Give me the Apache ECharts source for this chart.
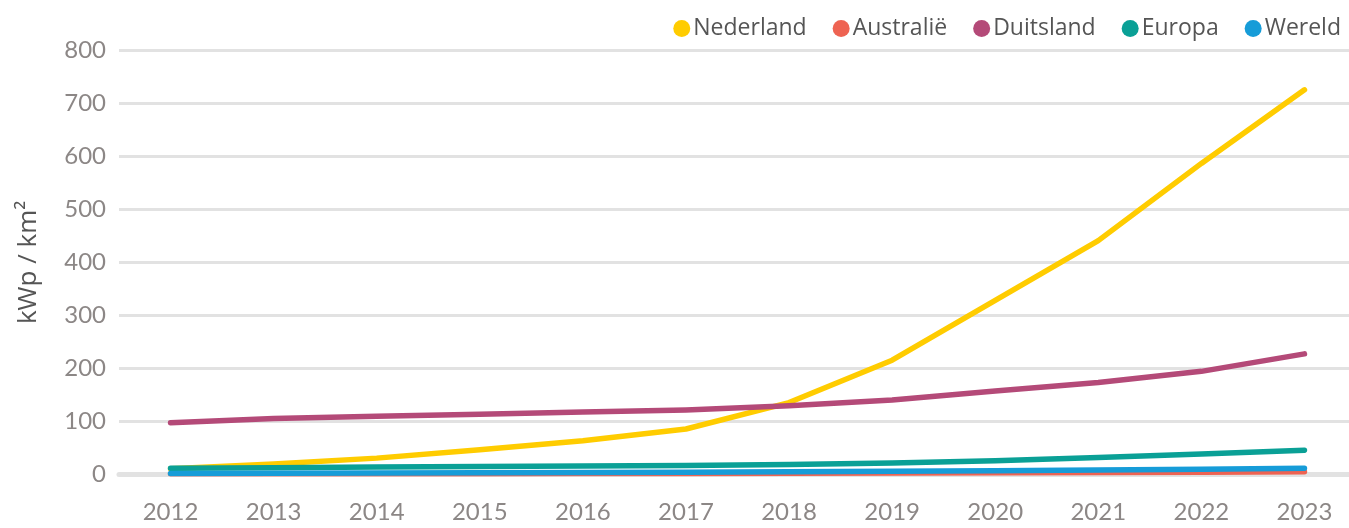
<!DOCTYPE html>
<html>
<head>
<meta charset="utf-8">
<script src="https://cdn.jsdelivr.net/npm/echarts@6/dist/echarts.min.js"></script>
<style>
  html, body { margin: 0; padding: 0; background: #fff; }
  #main { width: 1349px; height: 528px; }
</style>
</head>
<body>
<div id="main"></div>
<script>
var years = ['2012','2013','2014','2015','2016','2017','2018','2019','2020','2021','2022','2023'];
var nederland = [10, 19, 30, 46, 63, 85, 135, 215, 328, 441, 587, 726];
var australie = [0.3, 0.4, 0.5, 0.7, 0.9, 1.1, 1.4, 1.8, 2.2, 2.8, 3.4, 4.2];
var duitsland = [97, 105, 109, 113, 117, 121, 129, 140, 157, 173, 194, 227];
var europa = [11, 12, 13, 14, 15, 16, 18, 21, 25, 31, 38, 45];
var wereld = [1, 1.3, 1.7, 2.2, 2.8, 3.4, 4.2, 5, 6, 7.5, 9, 11];
var yTicks = [0, 100, 200, 300, 400, 500, 600, 700, 800];

var chartDom = document.getElementById('main');
var chart = echarts.init(chartDom);

function line(name, data, color) {
    return {
        name: name,
        type: 'line',
        data: data,
        showSymbol: false,
        symbol: 'none',
        lineStyle: { width: 5.5, color: color, cap: 'round', join: 'round' },
        itemStyle: { color: color }
    };
}

var option = {
    animation: false,
    textStyle: { fontFamily: 'Lato, "Open Sans", sans-serif' },
    legend: {
        right: 3,
        top: 12,
        icon: 'circle',
        itemWidth: 17,
        itemHeight: 17,
        itemGap: 26,
        itemStyle: { borderWidth: 0 },
        textStyle: { fontSize: 23, color: '#555555', fontFamily: '"Open Sans", sans-serif', padding: [0, 0, 0, -2] },
        data: ['Nederland', 'Australië', 'Duitsland', 'Europa', 'Wereld']
    },
    grid: { left: 119, right: -7, top: 50.7, bottom: 54, outerBoundsMode: 'none', containLabel: false },
    xAxis: {
        type: 'category',
        data: years,
        boundaryGap: true,
        axisLine: { lineStyle: { color: '#e2e2e2', width: 5 } },
        axisTick: { show: false },
        axisLabel: { margin: 26, fontSize: 24, color: '#8c8786' }
    },
    yAxis: {
        type: 'value',
        min: yTicks[0],
        max: yTicks[yTicks.length - 1],
        interval: 100,
        name: 'kWp / km²',
        nameLocation: 'middle',
        nameGap: 77,
        nameTextStyle: { fontSize: 26, color: '#555555', fontFamily: '"Open Sans", sans-serif' },
        axisLine: { show: false },
        axisTick: { show: false },
        axisLabel: { margin: 13, fontSize: 24, color: '#8c8786' },
        splitLine: { lineStyle: { color: '#e2e2e2', width: 3 } }
    },
    series: [
        line('Nederland', nederland, '#ffcc00'),
        line('Australië', australie, '#ee6352'),
        line('Duitsland', duitsland, '#b44a78'),
        line('Europa', europa, '#0aa096'),
        line('Wereld', wereld, '#169cd8')
    ]
};
chart.setOption(option);
window.addEventListener('resize', () => chart.resize());
</script>
</body>
</html>
